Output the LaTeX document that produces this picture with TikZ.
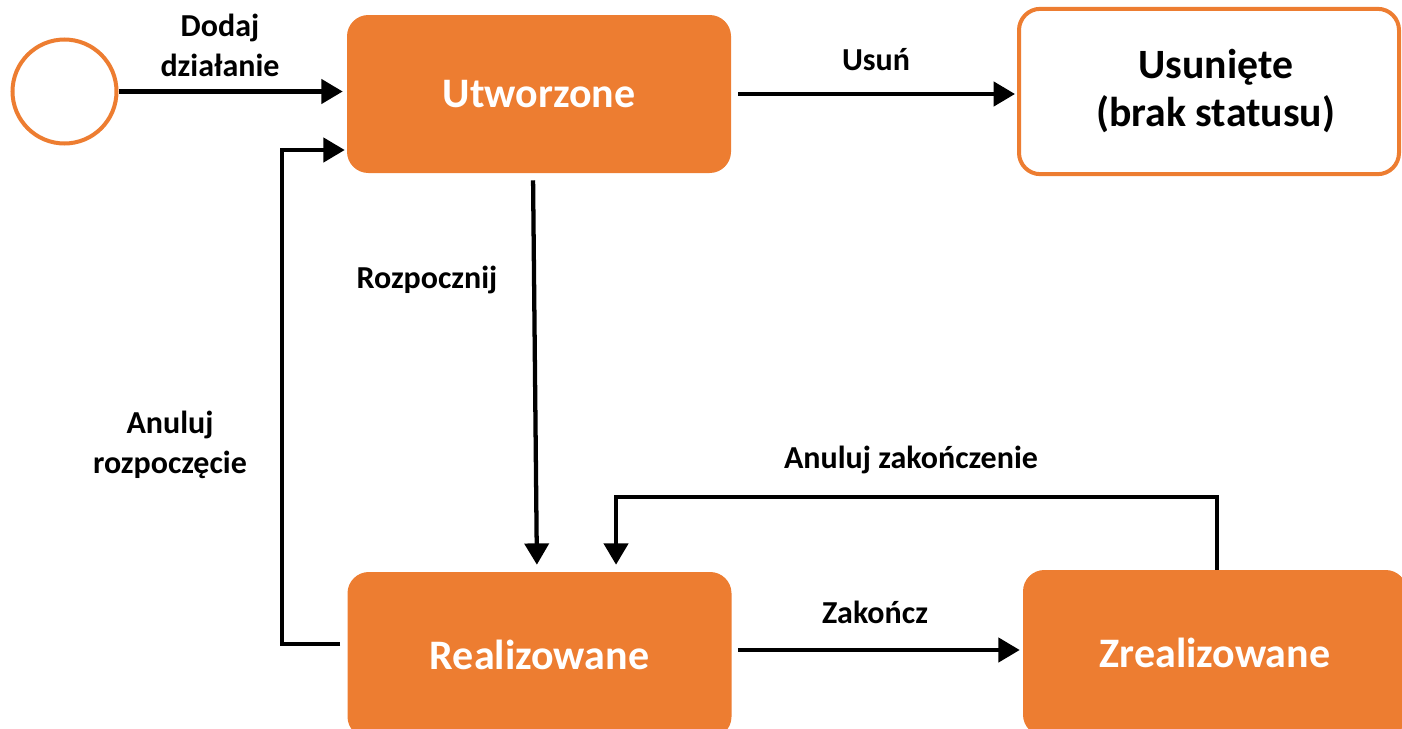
\documentclass[tikz,border=0pt]{standalone}
\usepackage{fontspec}
\setmainfont{Carlito}
\usetikzlibrary{arrows.meta}
\definecolor{org}{HTML}{ED7D31}
\begin{document}
\begin{tikzpicture}[x=0.75pt,y=-0.75pt,
  state/.style={rectangle, rounded corners=16pt, fill=org, text=white,
    font=\fontsize{31.5}{37}\selectfont\bfseries, minimum width=288pt,
    minimum height=118.5pt, inner sep=0pt},
  endstate/.style={rectangle, rounded corners=16pt, draw=org, line width=3pt,
    fill=white, text=black, align=center,
    font=\fontsize{31.3}{36}\selectfont\bfseries, minimum width=285pt,
    minimum height=124pt, inner sep=0pt},
  initstate/.style={circle, draw=org, line width=3pt, fill=white,
    minimum size=78pt, inner sep=0pt},
  lbl/.style={align=center, font=\fontsize{24}{30}\selectfont\bfseries, inner sep=0pt},
  arr/.style={-{Triangle[length=16pt,width=18pt]}, line width=3.2pt, draw=black}]
\useasboundingbox (0,0) rectangle (1402,728);

\node[initstate] (start) at (64.5,91.5) {};
\node[state] (utw) at (539,94) {Utworzone};
\node[endstate] (usun) at (1209,91.5) {\hspace*{10pt}Usunięte\\\hspace*{10pt}(brak statusu)};
\node[state, minimum height=124.5pt] (real) at (539.5,655) {Realizowane};
\node[state, minimum height=124.5pt] (zreal) at (1215,653) {Zrealizowane};

\node[lbl] (ldodaj) at (220,45) {Dodaj\\działanie};
\node[lbl] (lusun) at (876,60) {Usuń};
\node[lbl] (lrozp) at (427,280) {Rozpocznij};
\node[lbl] (lanr) at (170,445) {Anuluj\\rozpoczęcie};
\node[lbl] (lanz) at (911,460) {Anuluj zakończenie};
\node[lbl] (lzak) at (875,612) {Zakończ};

\draw[arr, shorten >=3pt] (start.east) -- (start.east -| utw.west);
\draw[arr, shorten <=5.25pt, shorten >=1.5pt] (utw.east) -- (utw.east -| usun.west);
\draw[arr, shorten <=5.25pt, shorten >=5.25pt] ([xshift=-4.5pt]utw.south) -- ([xshift=-1.9pt]real.north);
\draw[arr, shorten <=5.25pt, shorten >=1.5pt] ([yshift=8.25pt]real.west) -- ++(-65,0) |- ([yshift=-42pt]utw.west);
\draw[arr, shorten <=4.5pt, shorten >=2.25pt] ([yshift=3.75pt]real.east) -- ([yshift=3.75pt]real.east -| zreal.west);
\draw[arr, shorten >=5.25pt] ([xshift=1.5pt]zreal.north) -- ++(0,-73) -| ([xshift=57.4pt]real.north);
\end{tikzpicture}
\end{document}
